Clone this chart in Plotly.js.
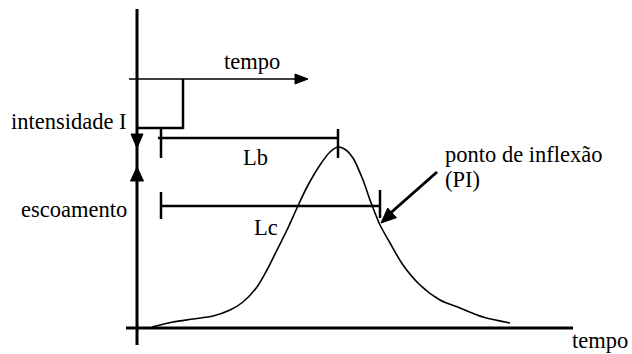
<!DOCTYPE html>
<html>
<head>
<meta charset="utf-8">
<script src="https://cdn.plot.ly/plotly-3.0.1.min.js"></script>
<style>html,body{margin:0;padding:0;background:#fff;}#chart{width:632px;height:354px;}</style>
</head>
<body>
<div id="chart"></div>
<script>
// Hydrograph (tempo vs escoamento), schematic units
const hydroTime = [15, 36, 56, 76, 93, 106, 120, 130, 140, 150, 160, 170, 183, 193, 201, 209, 216, 226, 233, 238, 243, 253, 266, 283, 303, 323, 346, 373];
const hydroFlow = [1, 6, 9, 12, 18, 26, 41, 58, 78, 98, 120, 141, 163, 176, 181, 178, 170, 148, 128, 115, 103, 85, 63, 43, 28, 20, 11, 5];

// Rainfall block (hyetograph, hanging from top time axis)
const rainBlockTime = [0, 46];
const rainBlockLevels = [249, 200];   // top axis level, intensity bottom
const rainAxisSpan = [-8, 171];

// Lag lengths
const lbSpan = [24, 201];   // start of rain -> peak
const lbLevel = 190;
const lcSpan = [24, 243];   // start of rain -> inflection point
const lcLevel = 122;
const inflectionPoint = [243, 105];
const inflectionLabelPos = [300, 156];

// Main axes
const mainTimeSpan = [-11, 436];
const mainFlowSpan = [-17, 319];
const intensityArrowTip = 180;
const flowArrowTip = 161;

const black = '#000';
const FONT = '"Liberation Serif", "Times New Roman", "DejaVu Serif", serif';

function line(x0, y0, x1, y1, w) {
  return {type: 'line', xref: 'x', yref: 'y', x0: x0, y0: y0, x1: x1, y1: y1,
          line: {color: black, width: w}};
}
function head(tx, ty, fx, fy, len, hw) {
  const dx = tx - fx, dy = ty - fy;
  const d = Math.sqrt(dx * dx + dy * dy);
  const ux = dx / d, uy = dy / d;
  const bx = tx - ux * len, by = ty - uy * len;
  const px = -uy * hw, py = ux * hw;
  return {type: 'path', xref: 'x', yref: 'y',
    path: 'M' + tx + ',' + ty + ' L' + (bx + px) + ',' + (by + py) + ' L' + (bx - px) + ',' + (by - py) + ' Z',
    fillcolor: black, line: {color: black, width: 1}};
}

const shapes = [
  // main axes
  line(0, mainFlowSpan[0], 0, mainFlowSpan[1], 3),
  line(mainTimeSpan[0], 0, mainTimeSpan[1], 0, 3),
  head(0, intensityArrowTip, 0, intensityArrowTip + 20, 14, 6),
  head(0, flowArrowTip, 0, flowArrowTip - 20, 14, 6.5),
  // top time axis with arrow
  line(rainAxisSpan[0], rainBlockLevels[0], rainAxisSpan[1] - 8, rainBlockLevels[0], 1.5),
  head(rainAxisSpan[1], rainBlockLevels[0], rainAxisSpan[1] - 20, rainBlockLevels[0], 13, 5),
  // rain block
  line(rainBlockTime[1], rainBlockLevels[0], rainBlockTime[1], rainBlockLevels[1] - 1, 2.5),
  line(rainBlockTime[0], rainBlockLevels[1], rainBlockTime[1], rainBlockLevels[1], 2.5),
  // Lb
  line(lbSpan[0] - 3, lbLevel, lbSpan[1], lbLevel, 2.5),
  line(lbSpan[0], lbLevel + 9, lbSpan[0], lbLevel - 20, 2.5),
  line(lbSpan[1], lbLevel + 9, lbSpan[1], lbLevel - 20, 2.5),
  // Lc
  line(lcSpan[0], lcLevel, lcSpan[1], lcLevel, 2.5),
  line(lcSpan[0], lcLevel + 14, lcSpan[0], lcLevel - 13, 2.5),
  line(lcSpan[1], lcLevel + 16, lcSpan[1], lcLevel - 12, 2.5),
  // PI arrow
  line(inflectionLabelPos[0], inflectionLabelPos[1], inflectionPoint[0] + 6, inflectionPoint[1] + 6, 3),
  head(inflectionPoint[0] + 1, inflectionPoint[1], inflectionLabelPos[0], inflectionLabelPos[1], 15, 6.5)
];

function txt(text, x, y, xanchor) {
  return {text: text, x: x, y: y, xref: 'x', yref: 'y', showarrow: false,
          xanchor: xanchor || 'center', yanchor: 'middle',
          font: {family: FONT, size: 22.5, color: black}};
}

const annotations = [
  txt('tempo', 115, 267),
  txt('intensidade I', -8, 207, 'right'),
  txt('escoamento', -8, 119, 'right'),
  txt('Lb', 118, 171),
  txt('Lc', 129, 101),
  txt('ponto de inflexão', 306, 174, 'left'),
  txt('(PI)', 306, 149, 'left'),
  txt('tempo', 493, -12, 'right')
];

const traces = [{
  x: hydroTime, y: hydroFlow, type: 'scatter', mode: 'lines',
  line: {color: black, width: 1.6, shape: 'spline', smoothing: 0.8},
  hoverinfo: 'skip'
}];

const layout = {
  width: 632, height: 354,
  margin: {l: 0, r: 0, t: 0, b: 0, pad: 0},
  paper_bgcolor: '#fff', plot_bgcolor: '#fff',
  showlegend: false,
  font: {family: FONT},
  xaxis: {range: [-137, 495], visible: false, fixedrange: true},
  yaxis: {range: [-26, 328], visible: false, fixedrange: true},
  shapes: shapes,
  annotations: annotations
};

Plotly.newPlot('chart', traces, layout, {displayModeBar: false, staticPlot: true});
</script>
</body>
</html>
